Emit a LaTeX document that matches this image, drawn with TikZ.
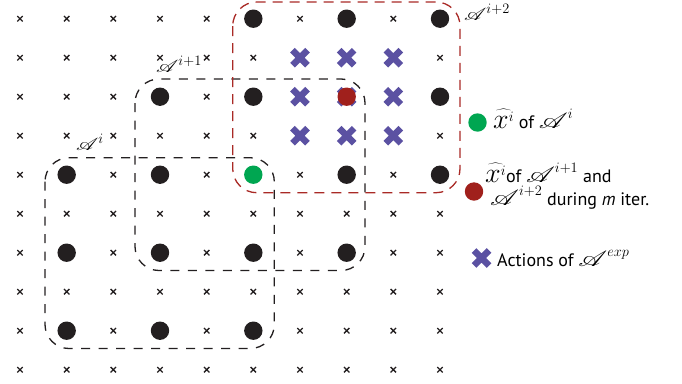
\documentclass[tikz,border=0pt]{standalone}
\usepackage{fontspec}
\setmainfont{PT Sans}
\usepackage{mathrsfs}
\usepackage{graphicx}

\definecolor{dotblack}{HTML}{231F20}
\definecolor{iterred}{HTML}{A0201C}
\definecolor{boxred}{HTML}{A92A26}
\definecolor{startgreen}{HTML}{00A651}
\definecolor{actblue}{HTML}{5B51A2}

% widened script A and enlarged italic x; legend math at a larger size
\newcommand\scrA[2][1.3]{\mathord{\mbox{\scalebox{#1}[#2]{$\mathscr{A}$}}}}
\newcommand\bigx{\mathord{\mbox{\scalebox{1.35}{$x$}}}}
\newcommand\lgm[1]{{\fontsize{22}{26}\selectfont$#1$}}

\tikzset{
  gridx/.pic={\draw[dotblack, line width=1.3pt] (-2.7,-2.7) -- (2.7,2.7) (-2.7,2.7) -- (2.7,-2.7);},
  actx/.pic={\draw[actblue, line width=6.5pt] (-7.5,-7.5) -- (7.5,7.5) (-7.5,7.5) -- (7.5,-7.5);},
  stateDot/.style={circle, inner sep=0pt, minimum size=18.4pt, fill=#1},
  regionbox/.style={draw=dotblack, line width=1.3pt, dash pattern=on 9pt off 8.5pt, rounded corners=24pt},
  regionboxred/.style={draw=boxred, line width=1.3pt, dash pattern=on 10pt off 7pt, rounded corners=24pt},
  boxlabel/.style={anchor=base west, inner sep=0pt, font=\fontsize{19}{22}\selectfont},
  legendtext/.style={anchor=base west, inner sep=0pt, font=\fontsize{18}{22}\selectfont},
}

\begin{document}
\begin{tikzpicture}[x=1pt, y=-1pt]
\useasboundingbox (0,0) rectangle (682,383);

% grid of unexplored points, dots inside the three regions, and the action block
\foreach \r in {0,...,9}{
  \foreach \c in {0,...,9}{
    \pgfmathsetmacro\px{20+46.667*\c}
    \pgfmathsetmacro\py{18.7+39*\r}
    \pgfmathtruncatemacro\isdot{(mod(\r,2)==0) && (mod(\c,2)==1) &&
      ((\c>=1 && \c<=5 && \r>=4 && \r<=8) || (\c>=3 && \c<=7 && \r>=2 && \r<=6) || (\c>=5 && \r<=4))}
    \pgfmathtruncatemacro\isact{(\r>=1 && \r<=3 && \c>=6 && \c<=8)}
    \ifnum\isact=1
      \pic at (\px,\py) {actx};
    \else
      \ifnum\isdot=0
        \pic at (\px,\py) {gridx};
      \fi
    \fi
  }
}

% region boxes
\draw[regionbox] (45,157.7) rectangle (274.3,348.5);
\draw[regionbox] (135,79) rectangle (365,270.5);
\draw[regionboxred] (232.7,2) rectangle (460,192.7);

% sampled points of each region
\foreach \r/\c in {0/5,0/7,0/9,2/3,2/5,2/9,4/1,4/3,4/7,4/9,6/1,6/3,6/5,6/7,8/1,8/3,8/5}{
  \pgfmathsetmacro\px{20+46.667*\c}
  \pgfmathsetmacro\py{18.7+39*\r}
  \node[stateDot=dotblack] (d-\r-\c) at (\px,\py) {};
}
\node[stateDot=startgreen] (start) at (253.3,174.7) {};
\node[stateDot=iterred] (iter) at (346.7,96.7) {};

% region labels
\node[boxlabel] (lab-i)  at (76,150) {$\scrA[1.25]{1.0}^{i}$};
\node[boxlabel] (lab-i1) at (156,72) {$\scrA[1.25]{1.0}^{i+1}$};
\node[boxlabel] (lab-i2) at (464,20) {$\scrA[1.25]{1.0}^{i+2}$};

% legend
\node[stateDot=startgreen] (leg-green) at (477.5,122.5) {};
\node[legendtext] (leg-green-t) at (493,128) {\lgm{\widehat{\bigx^i}} of \lgm{\scrA[1.35]{1.05}^{i}}};
\node[stateDot=iterred] (leg-red) at (474,191.5) {};
\node[legendtext] (leg-red-t1) at (485,182) {\lgm{\widehat{\bigx^i}}of \lgm{\scrA[1.35]{1.05}^{i+1}} and};
\node[legendtext] (leg-red-t2) at (490,205) {\lgm{\scrA[1.35]{1.05}^{i+2}} during \textit{m} iter.};
\pic at (481.5,258) {actx};
\node[legendtext] (leg-act-t) at (497,266) {Actions of \lgm{\scrA[1.35]{1.05}^{exp}}};
\end{tikzpicture}
\end{document}
